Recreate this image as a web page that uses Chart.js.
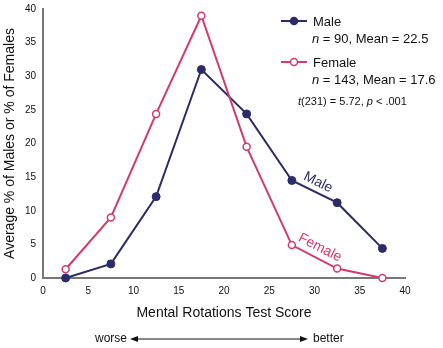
<!DOCTYPE html>
<html>
<head>
<meta charset="utf-8">
<script src="https://cdn.jsdelivr.net/npm/chart.js@4/dist/chart.umd.min.js"></script>
<style>
html,body{margin:0;padding:0;background:#fff;}
#wrap{width:443px;height:348px;position:relative;}
</style>
</head>
<body>
<div id="wrap"><canvas id="c" width="443" height="348"></canvas></div>
<script>
const scores = [2.5, 7.5, 12.5, 17.5, 22.5, 27.5, 32.5, 37.5];
const maleValues = [0, 2.1, 12.1, 31.0, 24.4, 14.5, 11.2, 4.4];
const femaleValues = [1.3, 9.0, 24.4, 39.0, 19.5, 4.9, 1.4, 0];
const xTicks = [0, 5, 10, 15, 20, 25, 30, 35, 40];
const yTicks = [0, 5, 10, 15, 20, 25, 30, 35, 40];
const seriesNames = ['Male', 'Female'];
const seriesStats = ['n = 90, Mean = 22.5', 'n = 143, Mean = 17.6'];
const xTitle = 'Mental Rotations Test Score';
const yTitle = 'Average % of Males or % of Females';

const MALE = '#2b2b69';
const FEMALE = '#d33a6d';
const FONT = '"Liberation Sans", Arial, Helvetica, sans-serif';

const toPts = vals => scores.map((s, i) => ({x: s, y: vals[i]}));

function drawMixed(ctx, x, y, parts, size) {
  let cx = x;
  parts.forEach(([t, it]) => {
    ctx.font = (it ? 'italic ' : '') + size + 'px ' + FONT;
    ctx.fillText(t, cx, y);
    cx += ctx.measureText(t).width;
  });
}

const decor = {
  id: 'decor',
  afterDatasetsDraw(chart) {
    const ctx = chart.ctx;
    const xs = chart.scales.x, ys = chart.scales.y;
    ctx.save();
    ctx.textBaseline = 'middle';
    ctx.textAlign = 'left';
    const items = [
      {c: MALE, fill: MALE, y: 21, name: seriesNames[0], stat: seriesStats[0]},
      {c: FEMALE, fill: '#fff', y: 62, name: seriesNames[1], stat: seriesStats[1]}
    ];
    items.forEach(it => {
      ctx.strokeStyle = it.c; ctx.lineWidth = 2;
      ctx.beginPath(); ctx.moveTo(281, it.y); ctx.lineTo(307, it.y); ctx.stroke();
      ctx.beginPath(); ctx.arc(294, it.y, 3.5, 0, Math.PI * 2);
      ctx.fillStyle = it.fill; ctx.fill(); ctx.lineWidth = 1.5; ctx.stroke();
      ctx.fillStyle = '#111';
      ctx.font = '13px ' + FONT;
      ctx.fillText(it.name, 313, it.y + 1);
      drawMixed(ctx, 312, it.y + 18, [['n', true], [it.stat.slice(1), false]], 13);
    });
    ctx.fillStyle = '#111';
    drawMixed(ctx, 298, 102, [['t', true], ['(231) = 5.72, ', false], ['p', true], [' < .001', false]], 11);

    const lbl = (text, color, xv, yv, ang) => {
      ctx.save();
      ctx.translate(xs.getPixelForValue(xv), ys.getPixelForValue(yv));
      ctx.rotate(ang * Math.PI / 180);
      ctx.fillStyle = color; ctx.font = '14px ' + FONT;
      ctx.textAlign = 'center';
      ctx.fillText(text, 0, 0);
      ctx.restore();
    };
    lbl(seriesNames[0], MALE, 30.4, 14.2, 26);
    lbl(seriesNames[1], FEMALE, 30.6, 4.5, 27);

    const ay = 339;
    ctx.fillStyle = '#111';
    ctx.font = '12px ' + FONT;
    ctx.textAlign = 'right';
    ctx.fillText('worse', 127, ay);
    ctx.textAlign = 'left';
    ctx.fillText('better', 313, ay);
    ctx.strokeStyle = '#111'; ctx.lineWidth = 1.2;
    ctx.beginPath(); ctx.moveTo(134, ay); ctx.lineTo(304, ay); ctx.stroke();
    ctx.beginPath(); ctx.moveTo(130, ay); ctx.lineTo(138, ay - 3); ctx.lineTo(138, ay + 3); ctx.closePath(); ctx.fill();
    ctx.beginPath(); ctx.moveTo(308, ay); ctx.lineTo(300, ay - 3); ctx.lineTo(300, ay + 3); ctx.closePath(); ctx.fill();
    ctx.restore();
  }
};

new Chart(document.getElementById('c'), {
  type: 'scatter',
  data: {
    datasets: [
      {
        label: seriesNames[1], data: toPts(femaleValues), showLine: true,
        borderColor: FEMALE, borderWidth: 2, backgroundColor: '#fff',
        pointRadius: 3.5, pointBorderWidth: 1.5, pointBackgroundColor: '#fff', pointBorderColor: FEMALE,
        tension: 0, clip: false
      },
      {
        label: seriesNames[0], data: toPts(maleValues), showLine: true,
        borderColor: MALE, borderWidth: 2, backgroundColor: MALE,
        pointRadius: 4, pointBorderWidth: 1, pointBackgroundColor: MALE, pointBorderColor: MALE,
        tension: 0, clip: false
      }
    ]
  },
  options: {
    responsive: false,
    animation: false,
    layout: {padding: {left: 2, right: 38, top: 9, bottom: 26}},
    plugins: {legend: {display: false}, tooltip: {enabled: false}},
    scales: {
      x: {
        type: 'linear', min: 0, max: 40,
        afterBuildTicks: s => { s.ticks = xTicks.map(v => ({value: v})); },
        afterFit: s => { s.height = 44; },
        grid: {display: false, drawOnChartArea: false, tickLength: 4, tickColor: '#333', drawTicks: true},
        border: {display: true, color: '#777', width: 2},
        ticks: {color: '#111', font: {family: FONT, size: 10}, padding: 3, maxRotation: 0},
        title: {display: true, text: xTitle, color: '#111', font: {family: FONT, size: 14}, padding: {top: 8, bottom: 0}}
      },
      y: {
        type: 'linear', min: 0, max: 40,
        afterBuildTicks: s => { s.ticks = yTicks.map(v => ({value: v})); },
        afterFit: s => { s.width = 41; },
        grid: {display: false, drawOnChartArea: false, tickLength: 4, tickColor: '#333', drawTicks: true},
        border: {display: true, color: '#777', width: 2},
        ticks: {color: '#111', font: {family: FONT, size: 10}, padding: 3},
        title: {display: true, text: yTitle, color: '#111', font: {family: FONT, size: 14}, padding: {top: 0, bottom: 2}}
      }
    }
  },
  plugins: [decor]
});
</script>
</body>
</html>
